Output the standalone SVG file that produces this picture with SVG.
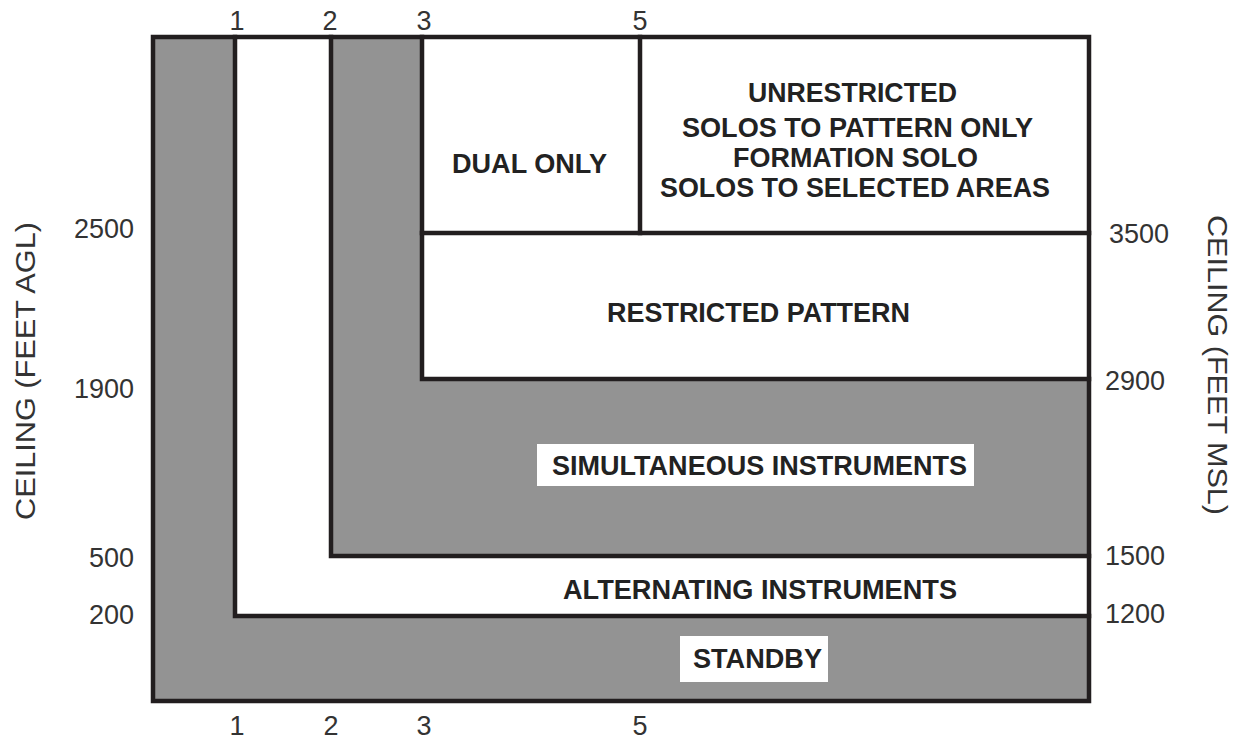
<svg xmlns="http://www.w3.org/2000/svg" width="1249" height="740" viewBox="0 0 1249 740">
<style>
.gray{fill:#939393}
.white{fill:#ffffff}
.ln{fill:none;stroke:#221e1f;stroke-width:4.5;stroke-linejoin:miter;stroke-linecap:square}
.lbl{font-family:"Liberation Sans",Arial,sans-serif;font-weight:bold;font-size:27px;fill:#222;text-anchor:middle}
.num{font-family:"Liberation Sans",Arial,sans-serif;font-size:27px;fill:#333}
.ax{font-family:"Liberation Sans",Arial,sans-serif;font-size:28px;fill:#333;text-anchor:middle}
</style>
<rect width="1249" height="740" fill="#ffffff"/>
<g id="zone-standby">
<rect class="gray" x="153" y="37" width="936" height="664"/>
<rect class="white" x="680" y="636" width="148" height="46"/>
<text class="lbl" x="757.5" y="668" textLength="129" lengthAdjust="spacingAndGlyphs">STANDBY</text>
</g>
<g id="zone-alternating">
<rect class="white" x="235" y="37" width="854" height="579"/>
<text class="lbl" x="760" y="599" textLength="394" lengthAdjust="spacingAndGlyphs">ALTERNATING INSTRUMENTS</text>
</g>
<g id="zone-simultaneous">
<rect class="gray" x="331" y="37" width="758" height="519"/>
<rect class="white" x="537" y="444" width="437" height="42"/>
<text class="lbl" x="759.5" y="475" textLength="415" lengthAdjust="spacingAndGlyphs">SIMULTANEOUS INSTRUMENTS</text>
</g>
<g id="zone-restricted">
<rect class="white" x="422" y="37" width="667" height="342"/>
<text class="lbl" x="758.5" y="322" textLength="303" lengthAdjust="spacingAndGlyphs">RESTRICTED PATTERN</text>
</g>
<g id="zone-dual">
<text class="lbl" x="529.5" y="173" textLength="155" lengthAdjust="spacingAndGlyphs">DUAL ONLY</text>
</g>
<g id="zone-unrestricted">
<text class="lbl" x="852.5" y="102" textLength="209" lengthAdjust="spacingAndGlyphs">UNRESTRICTED</text>
<text class="lbl" x="857.5" y="137" textLength="351" lengthAdjust="spacingAndGlyphs">SOLOS TO PATTERN ONLY</text>
<text class="lbl" x="855.5" y="167" textLength="245" lengthAdjust="spacingAndGlyphs">FORMATION SOLO</text>
<text class="lbl" x="855" y="197" textLength="390" lengthAdjust="spacingAndGlyphs">SOLOS TO SELECTED AREAS</text>
</g>
<g id="connectors">
<rect class="ln" x="153" y="37" width="936" height="664"/>
<path class="ln" d="M235,37 V616 H1089"/>
<path class="ln" d="M331,37 V556 H1089"/>
<path class="ln" d="M422,37 V379 H1089"/>
<path class="ln" d="M640,37 V233"/>
<path class="ln" d="M422,233 H1089"/>
</g>
<g id="axis-top">
<text class="num" x="237" y="30" text-anchor="middle">1</text>
<text class="num" x="330" y="30" text-anchor="middle">2</text>
<text class="num" x="424" y="30" text-anchor="middle">3</text>
<text class="num" x="640" y="30" text-anchor="middle">5</text>
</g>
<g id="axis-bottom">
<text class="num" x="237" y="735" text-anchor="middle">1</text>
<text class="num" x="331" y="735" text-anchor="middle">2</text>
<text class="num" x="424" y="735" text-anchor="middle">3</text>
<text class="num" x="640" y="735" text-anchor="middle">5</text>
</g>
<g id="axis-left">
<text class="num" x="134" y="238" text-anchor="end">2500</text>
<text class="num" x="134" y="398" text-anchor="end">1900</text>
<text class="num" x="134" y="567" text-anchor="end">500</text>
<text class="num" x="134" y="624" text-anchor="end">200</text>
<text class="ax" transform="translate(35,371) rotate(-90)" textLength="298" lengthAdjust="spacingAndGlyphs">CEILING (FEET AGL)</text>
</g>
<g id="axis-right">
<text class="num" x="1109" y="243">3500</text>
<text class="num" x="1105" y="390">2900</text>
<text class="num" x="1105" y="565">1500</text>
<text class="num" x="1105" y="623">1200</text>
<text class="ax" transform="translate(1208,365) rotate(90)" textLength="300" lengthAdjust="spacingAndGlyphs">CEILING (FEET MSL)</text>
</g>
</svg>
